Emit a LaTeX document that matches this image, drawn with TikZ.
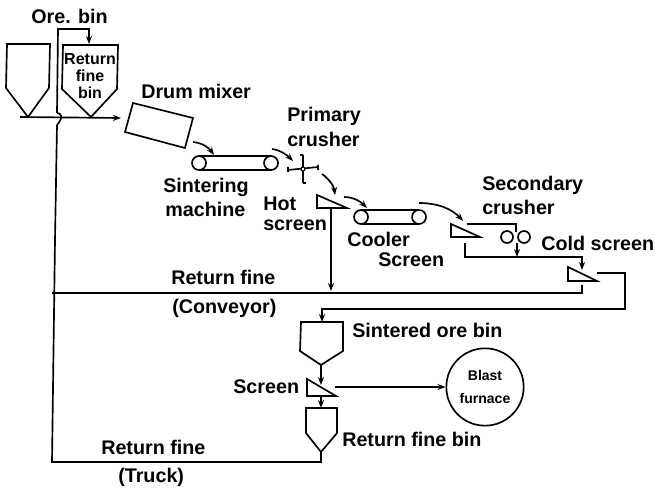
\documentclass[tikz,border=0pt]{standalone}
\usepackage{fontspec}
\setmainfont{Liberation Sans}
\usetikzlibrary{arrows.meta}
\tikzset{
  lbl/.style={font=\fontsize{14.8}{17}\selectfont\bfseries,inner sep=0pt,anchor=west},
  lblbin/.style={font=\fontsize{12}{14}\selectfont\bfseries,inner sep=0pt},
  lblsmall/.style={font=\fontsize{10.5}{12}\selectfont\bfseries,inner sep=0pt},
  eq/.style={line width=1.25pt,line join=miter},
  flow/.style={line width=1.25pt,-{Stealth[length=6pt,width=4.5pt]}},
  feed/.style={line width=1.25pt}
}
\begin{document}
\begin{tikzpicture}[x=0.75pt,y=-0.75pt]
    \useasboundingbox (0,0) rectangle (655,488);
    % equipment
    \draw[eq] (7,44) -- (50,44) -- (49,88) -- (28,117) -- (6,88) -- cycle;
    \draw[eq] (63,45) -- (118,45) -- (117,89) -- (91,117) -- (62,89) -- cycle;
    \draw[eq] (133,103) -- (193,118) -- (185,148) -- (125,132) -- cycle;
    \draw[eq] (199,163) circle (7);\draw[eq] (271,163) circle (7);\draw[eq] (199,156) -- (271,156) (199,170) -- (271,170);
    \draw[eq] (288,170) -- (318,167) (303,155) -- (303,183) (300,155) -- (303,155) (303,183) -- (306,183) (288,167) -- (288,172) (318,165) -- (318,170);
    \fill[white,draw=black,line width=0.8pt] (303,169) circle (2);
    \draw[eq] (317,195) -- (347,208) -- (317,208) -- cycle;
    \draw[eq] (361,217) circle (7);\draw[eq] (419,217) circle (7);\draw[eq] (361,210) -- (419,210) (361,224) -- (419,224);
    \draw[eq] (451,224) -- (480,237) -- (451,237) -- cycle;
    \draw[eq] (507,237) circle (6);\draw[eq] (524,237) circle (6);
    \draw[eq] (568,267) -- (597,281) -- (568,281) -- cycle;
    \draw[eq] (301,322) -- (343,322) -- (343,351) -- (321,365) -- (300,351) -- cycle;
    \draw[eq] (307,379) -- (336,396) -- (307,396) -- cycle;
    \draw[eq] (306,408) -- (337,408) -- (337,433) -- (321,452) -- (306,433) -- cycle;
    \node[draw,circle,eq,minimum size=58pt,inner sep=0pt] (furnace) at (485,387) {};
    % ports
    \coordinate (binL) at (20,117);
    \coordinate (mixerin) at (121,118);
    \coordinate (hopA) at (57,113);
    \coordinate (hopC) at (57,125);
    \coordinate (binRtop) at (89,44);
    \coordinate (mixerout) at (193,142);
    \coordinate (sintin) at (214,155);
    \coordinate (sintout) at (272,149);
    \coordinate (crushin) at (293,161);
    \coordinate (crushout) at (322,174);
    \coordinate (hotin) at (335,195);
    \coordinate (hotout) at (344,197);
    \coordinate (coolin) at (367,208);
    \coordinate (hotdown) at (331,209);
    \coordinate (returnC) at (331,291);
    \coordinate (coolout) at (419,203);
    \coordinate (scrin) at (463,221);
    \coordinate (scrtop) at (467,224);
    \coordinate (rollin) at (516,232);
    \coordinate (rollout) at (517,243);
    \coordinate (scrdown) at (465,243);
    \coordinate (coldin) at (582,270);
    \coordinate (coldout) at (597,273);
    \coordinate (colddown) at (582,285);
    \coordinate (sinterin) at (322,322);
    \coordinate (sinterout) at (321,365);
    \coordinate (scr4in) at (321,385);
    \coordinate (scr4out) at (321,396);
    \coordinate (retin) at (321,408);
    \coordinate (retout) at (321,452);
    \coordinate (scr4side) at (335,387);
    \coordinate (leftlow) at (52,462);
    \coordinate (leftmid) at (52,293);
    % connectors
    \draw[flow] (binL) -- (mixerin);
    \draw[flow] (hopA) -- (58,29) -- (89,29) -- (binRtop);
    \draw[feed] (hopA) .. controls (61,113) and (64,117) .. (hopC);
    \draw[feed] (hopC) -- (55,240) -- (leftlow) -- (321,462) -- (retout);
    \draw[feed] (leftmid) -- (582,293) -- (colddown);
    \draw[flow] (mixerout) .. controls (203,143) and (209,148) .. (sintin);
    \draw[flow] (sintout) .. controls (280,150) and (287,155) .. (crushin);
    \draw[flow] (crushout) .. controls (329,179) and (334,186) .. (hotin);
    \draw[flow] (hotout) .. controls (354,197) and (361,202) .. (coolin);
    \draw[flow] (hotdown) -- (returnC);
    \draw[flow] (coolout) .. controls (438,203) and (452,209) .. (scrin);
    \draw[feed] (scrtop) -- (516,224) -- (rollin);
    \draw[flow] (rollout) -- (517,257);
    \draw[flow] (scrdown) -- (465,257) -- (582,257) -- (coldin);
    \draw[flow] (coldout) -- (625,273) -- (625,309) -- (322,309) -- (sinterin);
    \draw[flow] (sinterout) -- (scr4in);
    \draw[flow] (scr4out) -- (retin);
    \draw[flow] (scr4side) -- (furnace.west);
    % labels
    \node[lbl] (orebin) at (31,16) {Ore. bin};
    \node[lblbin] (retA) at (90,59) {Return};\node[lblbin] (retB) at (90,76) {fine};\node[lblbin] (retC) at (90,93) {bin};
    \node[lbl] (drum) at (141,91) {Drum mixer};
    \node[lbl] (primA) at (287,116) {Primary};\node[lbl] (primB) at (287,139) {crusher};
    \node[lbl] (sintA) at (163,187) {Sintering};\node[lbl] (sintB) at (165,209) {machine};
    \node[lbl] (hotA) at (263,204) {Hot};\node[lbl] (hotB) at (263,225) {screen};
    \node[lbl] (cooler) at (347,239) {Cooler};\node[lbl] (screenA) at (378,260) {Screen};
    \node[lbl] (secA) at (482,185) {Secondary};\node[lbl] (secB) at (482,207) {crusher};
    \node[lbl] (cold) at (541,243) {Cold screen};
    \node[lbl] (fineA) at (171,277) {Return fine};\node[lbl] (conv) at (172,308) {(Conveyor)};
    \node[lbl] (sinter) at (352,330) {Sintered ore bin};
    \node[lbl] (screenB) at (233,387) {Screen};
    \node[lblsmall] (blast) at (485,375) {Blast};\node[lblsmall] (furn) at (485,398) {furnace};
    \node[lbl] (retfine) at (342,439) {Return fine bin};
    \node[lbl] (fineB) at (101,447) {Return fine};\node[lbl] (truck) at (118,477) {(Truck)};
  \end{tikzpicture}
\end{document}
